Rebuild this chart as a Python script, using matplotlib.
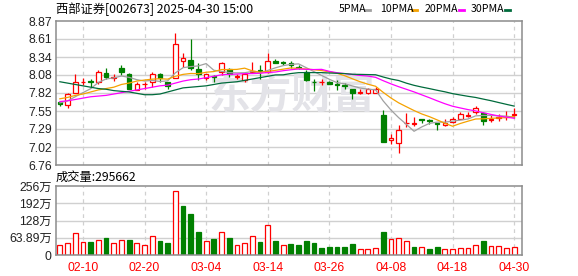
import numpy as np
import pandas as pd
import matplotlib
matplotlib.use("Agg")
import matplotlib.pyplot as plt

# ---------------- data ----------------
dates = ["02-05", "02-06", "02-07", "02-10", "02-11", "02-12", "02-13", "02-14",
         "02-17", "02-18", "02-19", "02-20", "02-21", "02-24", "02-25", "02-26",
         "02-27", "02-28", "03-03", "03-04", "03-05", "03-06", "03-07", "03-10",
         "03-11", "03-12", "03-13", "03-14", "03-17", "03-18", "03-19", "03-20",
         "03-21", "03-24", "03-25", "03-26", "03-27", "03-28", "03-31", "04-01",
         "04-02", "04-03", "04-07", "04-08", "04-09", "04-10", "04-11", "04-14",
         "04-15", "04-16", "04-17", "04-18", "04-21", "04-22", "04-23", "04-24",
         "04-25", "04-28", "04-29", "04-30"]

open_ = [7.68, 7.64, 7.81, 7.97, 7.99, 7.97, 8.11, 8.03, 8.18, 8.10,
         7.86, 7.94, 7.98, 8.09, 7.97, 8.03, 8.28, 8.30, 8.16, 8.03,
         8.07, 8.13, 8.16, 8.05, 8.01, 8.13, 8.15, 8.13, 8.29, 8.27,
         8.25, 8.20, 8.13, 7.98, 7.97, 7.98, 7.94, 7.93, 7.88, 7.82,
         7.81, 7.82, 7.49, 7.13, 7.08, 7.37, 7.36, 7.44, 7.42, 7.37,
         7.34, 7.39, 7.44, 7.48, 7.53, 7.52, 7.42, 7.45, 7.46, 7.49]
high = [7.70, 7.81, 8.09, 8.03, 8.02, 8.15, 8.18, 8.10, 8.23, 8.11,
        7.98, 7.98, 8.13, 8.11, 7.98, 8.70, 8.40, 8.61, 8.25, 8.10,
        8.08, 8.27, 8.18, 8.10, 8.13, 8.27, 8.23, 8.40, 8.31, 8.29,
        8.28, 8.23, 8.15, 8.02, 8.02, 7.99, 8.00, 7.96, 7.88, 7.87,
        7.89, 7.91, 7.565, 7.21, 7.35, 7.52, 7.46, 7.44, 7.43, 7.38,
        7.43, 7.47, 7.54, 7.54, 7.62, 7.53, 7.49, 7.50, 7.55, 7.60]
low = [7.63, 7.60, 7.81, 7.93, 7.91, 7.94, 8.02, 7.995, 8.08, 7.87,
       7.86, 7.88, 7.91, 7.98, 7.88, 8.03, 8.20, 8.15, 8.005, 8.00,
       7.98, 8.08, 8.05, 8.02, 7.98, 8.11, 8.02, 8.11, 8.25, 8.22,
       8.18, 8.17, 7.99, 7.85, 7.93, 7.95, 7.86, 7.87, 7.72, 7.80,
       7.80, 7.81, 7.10, 7.07, 6.94, 7.32, 7.33, 7.38, 7.36, 7.27,
       7.33, 7.37, 7.43, 7.46, 7.51, 7.34, 7.39, 7.40, 7.42, 7.45]
close = [7.66, 7.80, 7.97, 7.98, 7.98, 8.12, 8.05, 8.05, 8.12, 7.88,
         7.95, 7.95, 8.10, 8.04, 7.92, 8.54, 8.33, 8.18, 8.09, 8.09,
         8.05, 8.25, 8.09, 8.07, 8.10, 8.14, 8.14, 8.28, 8.26, 8.26,
         8.23, 8.18, 8.00, 7.97, 7.98, 7.95, 7.93, 7.92, 7.81, 7.83,
         7.87, 7.88, 7.10, 7.15, 7.27, 7.38, 7.37, 7.42, 7.41, 7.36,
         7.38, 7.44, 7.50, 7.49, 7.59, 7.41, 7.44, 7.47, 7.47, 7.50]

# volume in units of 万 (10k shares)
volume = [35.7, 43.0, 80.0, 46.8, 48.0, 56.6, 61.5, 43.0, 56.6, 54.0,
          43.0, 35.7, 69.0, 50.5, 44.3, 238.8, 181.0, 151.0, 87.0, 50.5,
          58.0, 87.0, 61.5, 35.7, 43.0, 69.0, 48.0, 109.5, 50.5, 35.7,
          40.6, 35.7, 50.5, 44.3, 24.6, 29.5, 29.5, 29.5, 40.6, 21.0,
          21.0, 24.6, 85.0, 58.0, 61.5, 50.5, 28.3, 28.3, 21.0, 28.3,
          21.0, 21.0, 24.6, 24.6, 35.7, 50.5, 32.0, 32.0, 24.6, 29.5662]
# volume bar colour: 1 = rising (red, hollow), 0 = falling (green, filled)
vol_up = [1, 1, 1, 1, 0, 1, 0, 1, 1, 0,
          1, 1, 1, 0, 0, 1, 0, 0, 0, 1,
          0, 1, 0, 1, 1, 1, 0, 1, 0, 1,
          0, 0, 0, 0, 0, 0, 0, 0, 0, 1,
          1, 1, 0, 1, 1, 1, 0, 1, 0, 0,
          1, 1, 1, 1, 1, 0, 1, 1, 1, 1]

# moving-average values on the first bars (their windows reach before 02-05)
ma5_head = [7.67, 7.70, 7.76, 7.82]
ma10_head = [7.73, 7.75, 7.78, 7.80, 7.83, 7.86, 7.88, 7.90, 7.94]
ma20_head = [7.69, 7.70, 7.72, 7.74, 7.76, 7.77, 7.78, 7.80, 7.82, 7.84,
             7.86, 7.88, 7.90, 7.92, 7.93, 7.96, 7.99, 8.01, 8.02]
ma30_head = [7.98, 7.96, 7.94, 7.92, 7.90, 7.88, 7.87, 7.85, 7.84, 7.83,
             7.81, 7.79, 7.79, 7.80, 7.83, 7.86, 7.89, 7.90, 7.91, 7.92,
             7.94, 7.96, 7.97, 7.98, 8.00, 8.02, 8.04, 8.06, 8.08]

price_ticks = [6.76, 7.02, 7.29, 7.55, 7.82, 8.08, 8.34, 8.61, 8.87]
price_labels = ["6.76", "7.02", "7.29", "7.55", "7.82", "8.08", "8.34", "8.61", "8.87"]
vol_ticks = [0, 63.89, 128, 192, 256]
vol_labels = ["0", "63.89万", "128万", "192万", "256万"]
label_idx = [3, 11, 19, 27, 35, 43, 51, 59]

title = "西部证券[002673] 2025-04-30 15:00"
vol_title = "成交量:295662"
ma_names = ["5PMA", "10PMA", "20PMA", "30PMA"]

# ---------------- derived ----------------
o = np.array(open_); h = np.array(high); l = np.array(low); c = np.array(close)
v = np.array(volume); vu = np.array(vol_up, dtype=bool)
n = len(c)
x = np.arange(n)
cs = pd.Series(c)

def ma(win, head):
    r = cs.rolling(win).mean().to_numpy()
    r[:len(head)] = head
    return r

mas = [ma(5, ma5_head), ma(10, ma10_head), ma(20, ma20_head), ma(30, ma30_head)]

RED = "#FF0000"
GREEN = "#008000"
ma_colors = ["#A0A0A0", "#F5A200", "#FF00FF", "#006B3C"]
GRID = "#D0D0D0"
BORDER = "#8C8C8C"
CJK = ["Noto Sans CJK SC", "DejaVu Sans"]
NUM = ["Liberation Sans", "Noto Sans CJK SC"]

W, H = 578, 276
fig = plt.figure(figsize=(W / 100, H / 100), dpi=100)
fig.patch.set_facecolor("white")
ax1 = fig.add_axes([56 / W, 1 - 165 / H, 466 / W, 144 / H])
ax2 = fig.add_axes([56 / W, 1 - 255 / H, 466 / W, 69 / H])

for ax in (ax1, ax2):
    ax.set_xlim(-0.5, n + 0.02)
    for s in ax.spines.values():
        s.set_color(BORDER)
        s.set_linewidth(1.1)
    ax.tick_params(length=0)
    for i in label_idx:
        ax.axvline(i, color=GRID, lw=0.9, ls=(0, (3, 3)), zorder=0)

# price panel
ax1.set_ylim(price_ticks[0], price_ticks[-1])
for t in price_ticks[1:-1]:
    ax1.axhline(t, color=GRID, lw=1.0, zorder=0)
ax1.set_yticks(price_ticks)
ax1.set_yticklabels(price_labels, family=NUM, fontsize=8.8, color="#222222")
ax1.tick_params(axis="y", pad=3)
ax1.set_xticks([])

ax1.text(0.505, 0.48, "东方财富", transform=ax1.transAxes, ha="center", va="center",
         family=CJK, fontsize=30, fontweight="bold", color="#E3E3E8", zorder=0.5)

up = c >= o
cand_col = np.where(up, RED, GREEN)
ax1.vlines(x, l, h, colors=cand_col, lw=0.9, zorder=2)
ax1.bar(x, np.maximum(np.abs(c - o), 0.002), bottom=np.minimum(o, c), width=0.6,
        facecolor=np.where(up, "white", GREEN), edgecolor=cand_col, linewidth=0.9,
        zorder=2.5)
for m, col in zip(mas, ma_colors):
    ax1.plot(x, m, color=col, lw=0.9, zorder=3)

# volume panel
ax2.set_ylim(0, 256)
for t in vol_ticks[1:-1]:
    ax2.axhline(t, color=GRID, lw=1.0, zorder=0)
ax2.set_yticks(vol_ticks)
ax2.set_yticklabels(vol_labels, family=NUM, fontsize=8.8, color="#222222")
ax2.tick_params(axis="y", pad=3)
ax2.bar(x, v, width=0.62, facecolor=np.where(vu, "white", GREEN),
        edgecolor=np.where(vu, RED, GREEN), linewidth=0.9, zorder=2)
ax2.set_xticks(label_idx)
ax2.set_xticklabels([dates[i] for i in label_idx], family=NUM, fontsize=8.8, color=RED)
ax2.tick_params(axis="x", pad=5)

# texts
fig.text(56 / W, 1 - 9 / H, title, family=CJK, fontsize=8.8, ha="left", va="center")
fig.text(56 / W, 1 - 177 / H, vol_title, family=CJK, fontsize=8.8, ha="left", va="center")
leg_x = [338.7, 379.7, 425.0, 471.0]
sw_x = [365.0, 412.0, 459.0, 505.0]
for name, col, tx, sx in zip(ma_names, ma_colors, leg_x, sw_x):
    fig.text(tx / W, 1 - 9 / H, name, family=CJK, fontsize=7.6, ha="left", va="center")
    fig.add_artist(plt.Line2D([sx / W, (sx + 5) / W], [1 - 9.5 / H, 1 - 9.5 / H],
                              color=col, lw=2, transform=fig.transFigure))

fig.savefig("out.png", dpi=100, facecolor="white")
